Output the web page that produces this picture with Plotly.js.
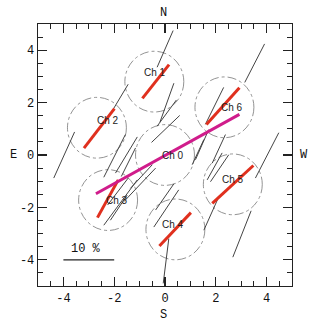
<!DOCTYPE html>
<html>
<head>
<meta charset="utf-8">
<script src="https://cdn.plot.ly/plotly-3.0.1.min.js"></script>
<style>
  html, body { margin: 0; padding: 0; background: #fff; }
  #plot { width: 325px; height: 323px; }
</style>
</head>
<body>
<div id="plot"></div>
<script>
// channel beams (arcmin offsets)
const chNames = ["Ch 0", "Ch 1", "Ch 2", "Ch 3", "Ch 4", "Ch 5", "Ch 6"];
const chX = [0.0, -0.42, -2.68, -2.24, 0.41, 2.67, 2.34];
const chY = [0.0, 2.80, 1.04, -1.72, -2.84, -1.12, 1.82];
const chRadius = 1.16;
const chLabelX = [0.33, -0.39, -2.23, -1.90, 0.33, 2.69, 2.62];
const chLabelY = [0.0, 3.16, 1.30, -1.72, -2.66, -0.95, 1.81];

// red polarization vectors per channel (Ch 1..6)
const redX1 = [-0.89, -3.19, -2.66, -0.22, 1.86, 1.63];
const redY1 = [2.16, 0.26, -2.39, -3.47, -1.85, 1.16];
const redX2 = [0.16, -1.99, -1.84, 1.02, 3.48, 2.93];
const redY2 = [3.45, 1.77, -0.95, -2.20, -0.40, 2.57];

// magenta vector (Ch 0)
const magX = [-2.72, 2.93];
const magY = [-1.48, 1.55];

// gray star polarization vectors
const grayX1 = [0.32, 3.92, -1.45, 0.35, 0.45, 0.58, 2.31, 4.48, -3.56, -1.56, -1.09, -1.16, -0.50, -0.37, -1.09, -1.49, 1.53, 2.25, 2.51, 0.54, 0.35, 2.06, 3.39, 0.15, 2.38, -1.44, 1.72];
const grayY1 = [4.75, 4.24, 2.70, 2.74, 2.10, 1.51, 2.58, 0.85, 0.88, 0.78, 0.69, 0.27, -0.37, -0.50, -0.95, -1.53, 0.59, 0.08, 0.01, -1.33, -1.10, -1.72, -2.13, -3.19, 0.78, -0.87, 0.97];
const grayX2 = [-0.31, 3.14, -2.08, -0.20, -0.31, -0.53, 1.59, 3.56, -4.38, -2.41, -1.95, -1.72, -1.36, -1.62, -2.41, -2.15, 1.07, 1.66, 1.79, -0.44, -0.37, 1.53, 2.67, -0.07, 1.86, -2.26, 1.20];
const grayY2 = [3.35, 2.77, 1.68, 1.25, 1.10, 0.48, 1.17, -0.88, -0.88, -0.85, -0.69, -0.82, -1.27, -1.78, -2.68, -2.49, -0.37, -0.95, -1.02, -2.75, -2.10, -2.87, -3.90, -4.90, -0.31, -1.91, -0.18];

// 10 % scale bar
const scaleX = [-4, -2];
const scaleY = [-4, -4];
const scaleLabel = "10 %";

const tickVals = [-4, -2, 0, 2, 4];
const tickText = ["-4", "-2", "0", "2", "4"];

function segs(x1, y1, x2, y2) {
  const xs = [], ys = [];
  for (let i = 0; i < x1.length; i++) {
    xs.push(x1[i], x2[i], null);
    ys.push(y1[i], y2[i], null);
  }
  return { x: xs, y: ys };
}

const gray = segs(grayX1, grayY1, grayX2, grayY2);
const red = segs(redX1, redY1, redX2, redY2);

const traces = [
  { type: "scatter", mode: "lines", x: gray.x, y: gray.y,
    line: { color: "#444", width: 1 }, hoverinfo: "skip" },
  { type: "scatter", mode: "lines", x: scaleX, y: scaleY,
    line: { color: "#222", width: 1.2 }, hoverinfo: "skip" },
  { type: "scatter", mode: "lines", x: red.x, y: red.y,
    line: { color: "#e0301e", width: 3 }, hoverinfo: "skip" },
  { type: "scatter", mode: "lines", x: magX, y: magY,
    line: { color: "#d01c8b", width: 3 }, hoverinfo: "skip" },
];

const shapes = chX.map((cx, i) => ({
  type: "circle", xref: "x", yref: "y", layer: "below",
  x0: cx - chRadius, x1: cx + chRadius,
  y0: chY[i] - chRadius, y1: chY[i] + chRadius,
  line: { color: "#777", width: 0.8, dash: "dashdot" },
}));

const tickFont = { family: "Liberation Mono, DejaVu Sans Mono, monospace", size: 12, color: "#111" };

const annotations = chNames.map((n, i) => ({
  x: chLabelX[i], y: chLabelY[i], xref: "x", yref: "y", text: n,
  xanchor: "center", yanchor: "middle",
  showarrow: false, font: { family: "Liberation Sans, Arial, sans-serif", size: 10, color: "#222" },
}));
const compass = { showarrow: false, font: tickFont, xanchor: "center", yanchor: "middle" };
annotations.push(
  { ...compass, x: -3.13, y: -3.57, xref: "x", yref: "y", text: scaleLabel },
  { ...compass, x: 0.495, y: 1.043, xref: "paper", yref: "paper", text: "N" },
  { ...compass, x: 0.495, y: -0.11, xref: "paper", yref: "paper", text: "S" },
  { ...compass, x: -0.097, y: 0, xref: "paper", yref: "y", text: "E" },
  { ...compass, x: 1.049, y: 0, xref: "paper", yref: "y", text: "W" }
);

const axisCommon = {
  range: [-5, 5],
  showgrid: false,
  zeroline: false,
  showline: true,
  linecolor: "#222",
  linewidth: 1.3,
  mirror: "allticks",
  ticks: "inside",
  ticklen: 9,
  tickwidth: 1.1,
  tickcolor: "#222",
  tickmode: "array",
  tickvals: tickVals,
  ticktext: tickText,
  tickfont: tickFont,
  minor: { dtick: 0.5, tick0: 0, ticks: "inside", ticklen: 5, tickwidth: 1, tickcolor: "#222", showgrid: false },
  fixedrange: true,
};

const layout = {
  width: 325,
  height: 323,
  margin: { l: 38, r: 32.5, t: 24, b: 37.3 },
  paper_bgcolor: "#fff",
  plot_bgcolor: "#fff",
  showlegend: false,
  xaxis: { ...axisCommon },
  yaxis: { ...axisCommon },
  shapes: shapes,
  annotations: annotations,
};

Plotly.newPlot("plot", traces, layout, { staticPlot: true, displayModeBar: false });
</script>
</body>
</html>
